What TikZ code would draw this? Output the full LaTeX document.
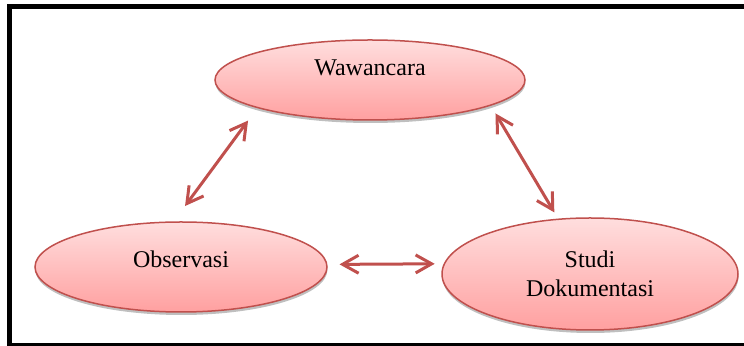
\documentclass[tikz,border=0pt]{standalone}
\usepackage{fontspec}
\setmainfont{Liberation Serif}
\usetikzlibrary{shapes.geometric,arrows.meta,shadows}
\definecolor{edgered}{RGB}{192,80,77}
\definecolor{filltop}{RGB}{255,222,222}
\definecolor{fillbot}{RGB}{255,160,160}

\begin{document}
\begin{tikzpicture}[x=0.5pt,y=-0.5pt,
   bubble/.style={ellipse,draw=edgered,line width=0.75pt,top color=filltop,bottom color=fillbot,
     inner sep=0pt,align=center,font=\fontsize{12}{14.5}\selectfont,
     drop shadow={shadow xshift=0.2pt,shadow yshift=-1.5pt,opacity=0.25,fill=black}},
   link/.style={edgered,line width=1.5pt,
     {Straight Barb[length=8pt,width=9pt]}-{Straight Barb[length=8pt,width=9pt]}}]
 \clip (0,0) rectangle (744,346);
 \useasboundingbox (0,0) rectangle (744,346);

 % frame
 \draw[line width=2.5pt] (9.5,6.5) rectangle (770,345.5);

 \node[bubble,minimum width=155pt,minimum height=40pt,text height=0pt,text depth=4pt]
   (waw) at (370,80) {Wawancara};
 \node[bubble,minimum width=146pt,minimum height=45pt,text height=1pt,text depth=0pt]
   (obs) at (181,267) {Observasi};
 \node[bubble,minimum width=148pt,minimum height=56pt]
   (stu) at (590,274) {Studi\\Dokumentasi};

 \draw[link,shorten <=9.5pt,shorten >=7.75pt] (obs.99) -- (waw.194);
 \draw[link,shorten <=4.5pt,shorten >=3.6pt] (waw.348) -- (stu.120);
 \draw[link,shorten <=6pt,shorten >=4.5pt] (obs.1) -- (stu.176);
\end{tikzpicture}
\end{document}
